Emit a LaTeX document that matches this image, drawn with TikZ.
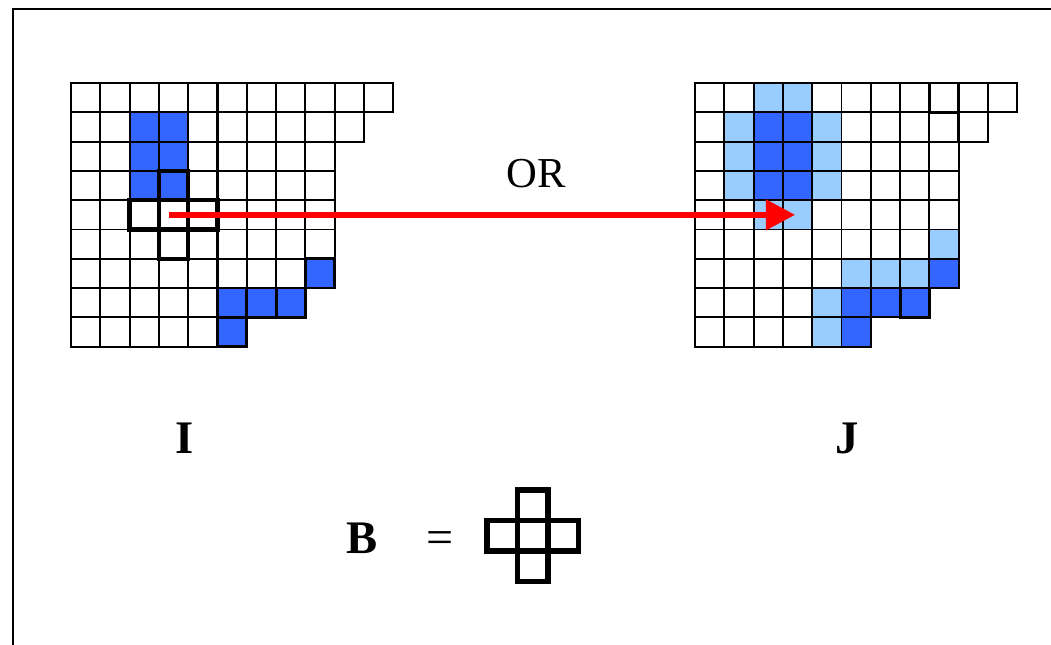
\documentclass[tikz,border=0pt]{standalone}
\usepackage{fontspec}
\setmainfont{Liberation Serif}
\usetikzlibrary{arrows.meta}
\definecolor{setblue}{HTML}{3366FF}
\definecolor{dilblue}{HTML}{99CCFF}
\definecolor{orred}{HTML}{FF0000}

\begin{document}
\begin{tikzpicture}[x=0.75pt, y=-0.75pt,
    cellbox/.style={draw=black, line width=1.4pt},
    edgebox/.style={draw=black, line width=2.1pt},
    sebox/.style={draw=black, line width=3.3pt},
    label/.style={font=\fontsize{35}{40}\selectfont\bfseries, anchor=base},
    ortext/.style={font=\fontsize{32}{36}\selectfont, anchor=base},
    orarrow/.style={-{Triangle[length=22pt,width=22pt]}, draw=orred, line width=4.8pt}
  ]
    \useasboundingbox (0,0) rectangle (1051,645);
    \def\cs{29.3}
    % frame
    \draw[line width=1.5pt] (13,645) -- (13,9) -- (1051,9);

    % image I
    \begin{scope}[shift={(71,83)}]
      \foreach \r/\c in {1/2,1/3,2/2,2/3,3/2,3/3,6/8,7/5,7/6,7/7,8/5}
        \fill[setblue] (\c*\cs,\r*\cs) rectangle ++(\cs,\cs);
      \foreach \r/\n in {0/11,1/10,2/9,3/9,4/9,5/9,6/9,7/8,8/6}
        \foreach \c in {1,...,\n}
          \draw[cellbox] ({(\c-1)*\cs},{\r*\cs}) rectangle ++(\cs,\cs);
      \draw[edgebox] (5*\cs,0) -- (5*\cs,7*\cs);
      \foreach \r/\c in {6/8,7/5,7/6,7/7,8/5}
        \draw[edgebox] (\c*\cs,\r*\cs) rectangle ++(\cs,\cs);
      % structuring element at the probe position
      \foreach \r/\c in {3/3,4/2,4/3,4/4,5/3}
        \draw[sebox] (\c*\cs,\r*\cs) rectangle ++(\cs,\cs);
      \coordinate (probe) at (3.35*\cs,4.5*\cs);
    \end{scope}

    % image J
    \begin{scope}[shift={(695,83)}]
      \foreach \r/\c in {0/2,0/3,1/1,1/4,2/1,2/4,3/1,3/4,4/2,4/3,5/8,6/5,6/6,6/7,7/4,8/4}
        \fill[dilblue] (\c*\cs,\r*\cs) rectangle ++(\cs,\cs);
      \foreach \r/\c in {1/2,1/3,2/2,2/3,3/2,3/3,6/8,7/5,7/6,7/7,8/5}
        \fill[setblue] (\c*\cs,\r*\cs) rectangle ++(\cs,\cs);
      \foreach \r/\n in {0/11,1/10,2/9,3/9,4/9,5/9,6/9,7/8,8/6}
        \foreach \c in {1,...,\n}
          \draw[cellbox] ({(\c-1)*\cs},{\r*\cs}) rectangle ++(\cs,\cs);
      \draw[edgebox] (8*\cs,0) rectangle ++(\cs,\cs);
      \draw[edgebox] (9*\cs,0) -- (9*\cs,2*\cs);
      \draw[edgebox] (7*\cs,7*\cs) rectangle ++(\cs,\cs);
      \coordinate (hit) at (3.42*\cs,4.5*\cs);
    \end{scope}

    \node[ortext] (ortxt) at (536,188) {OR};
    \draw[orarrow] (probe) -- (hit);

    \node[label] (imgI) at (185,454) {I};
    \node[label] (imgJ) at (847,454) {J};
    \node[label] (elemB) at (362,554) {B};
    \node[ortext, font=\fontsize{36}{40}\selectfont] (eqsign) at (440,554) {=};

    % structuring element B
    \begin{scope}[shift={(487,490)}]
      \def\bs{30.5}
      \foreach \r/\c in {0/1,1/0,1/1,1/2,2/1}
        \draw[sebox, line width=3.8pt] (\c*\bs,\r*\bs) rectangle ++(\bs,\bs);
    \end{scope}
  \end{tikzpicture}
\end{document}
